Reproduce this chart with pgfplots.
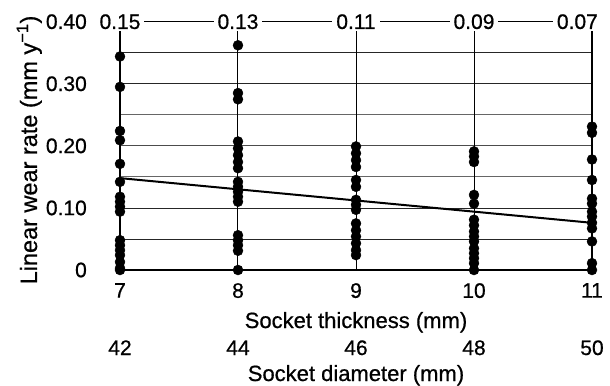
\documentclass[border=0pt]{standalone}
\usepackage{fontspec}
\setmainfont{Liberation Sans}[FakeBold=0.7]
\usepackage{pgfplots}
\pgfplotsset{compat=1.18}
\begin{document}
\fontsize{21bp}{25bp}\selectfont
\begin{tikzpicture}
\begin{axis}[
 at={(0,0)}, anchor=south west,
 scale only axis, width=472bp, height=248.3bp,
 xmin=7, xmax=11, ymin=0, ymax=0.40,
 clip=false,
 axis line style={draw=none},
 major tick length=0pt,
 xtick={7,8,9,10,11},
 xticklabels={7,8,9,10,11},
 ytick={0,0.1,0.2,0.3,0.4},
 yticklabels={0,0.10,0.20,0.30,0.40},
 xticklabel style={anchor=north, inner sep=0pt, yshift=-13bp},
 yticklabel style={anchor=east, inner sep=0pt, xshift=-33bp},
 ticklabel style={font=\fontsize{21bp}{25bp}\selectfont},
 /pgf/number format/assume math mode=true,
]
% horizontal grid
\draw[line width=0.8bp, black!85] (axis cs:7,0.05) -- (axis cs:11,0.05);
\draw[line width=0.8bp, black!85] (axis cs:7,0.10) -- (axis cs:11,0.10);
\draw[line width=0.8bp, black!60] (axis cs:7,0.15) -- (axis cs:11,0.15);
\draw[line width=0.8bp, black!70] (axis cs:7,0.20) -- (axis cs:11,0.20);
\draw[line width=0.8bp, black!60] (axis cs:7,0.25) -- (axis cs:11,0.25);
\draw[line width=0.8bp, black!85] (axis cs:7,0.30) -- (axis cs:11,0.30);
\draw[line width=0.8bp, black!85] (axis cs:7,0.35) -- (axis cs:11,0.35);
\draw[line width=1.2bp, black] (axis cs:7,0.40) -- (axis cs:11,0.40);
% vertical grid
\draw[line width=1bp, black] (axis cs:8,0) -- (axis cs:8,0.40);
\draw[line width=1bp, black] (axis cs:9,0) -- (axis cs:9,0.40);
\draw[line width=1bp, black] (axis cs:10,0) -- (axis cs:10,0.40);
\draw[line width=2.4bp, black] (axis cs:7,0) -- (axis cs:7,0.40);
\draw[line width=2.4bp, black] (axis cs:11,0) -- (axis cs:11,0.40);
\draw[line width=2.6bp, black] (axis cs:7,0) -- (axis cs:11,0);
% regression line
\addplot[line width=2bp, black] coordinates {(7,0.148) (11,0.076)};
% data
\addplot[only marks, mark=*, mark size=5bp, black] coordinates {
(7,0.344) (7,0.295) (7,0.224) (7,0.209) (7,0.171) (7,0.142) (7,0.118) (7,0.110)
(7,0.102) (7,0.094) (7,0.048) (7,0.040) (7,0.032) (7,0.024) (7,0.013) (7,0.003) (7,0.0)
(8,0.362) (8,0.285) (8,0.275) (8,0.207) (8,0.196) (8,0.185) (8,0.174) (8,0.164)
(8,0.142) (8,0.134) (8,0.126) (8,0.118) (8,0.110) (8,0.056) (8,0.048) (8,0.040) (8,0.031) (8,0.0)
(9,0.199) (9,0.188) (9,0.177) (9,0.166) (9,0.145) (9,0.134) (9,0.113) (9,0.105) (9,0.097)
(9,0.075) (9,0.064) (9,0.054) (9,0.043) (9,0.032) (9,0.024)
(10,0.191) (10,0.183) (10,0.174) (10,0.121) (10,0.107) (10,0.081) (10,0.072) (10,0.062)
(10,0.054) (10,0.046) (10,0.035) (10,0.027) (10,0.019) (10,0.011) (10,0.0)
(11,0.231) (11,0.221) (11,0.178) (11,0.145) (11,0.115) (11,0.107) (11,0.094) (11,0.086)
(11,0.076) (11,0.067) (11,0.046) (11,0.011) (11,0.0)
};
% top labels
\node[fill=white, inner xsep=4bp, inner ysep=2bp] at (axis cs:7,0.40) {0.15};
\node[fill=white, inner xsep=4bp, inner ysep=2bp] at (axis cs:8,0.40) {0.13};
\node[fill=white, inner xsep=4bp, inner ysep=2bp] at (axis cs:9,0.40) {0.11};
\node[fill=white, inner xsep=4bp, inner ysep=2bp] at (axis cs:10,0.40) {0.09};
\node[fill=white, inner xsep=4bp, inner ysep=2bp, anchor=east] at ([xshift=10bp]axis cs:11,0.40) {0.07};
% bottom labels
\node[anchor=base, font=\fontsize{22bp}{26bp}\selectfont] at ([yshift=-58bp]axis cs:9,0) {Socket thickness (mm)};
\node[anchor=base] at ([yshift=-85bp]axis cs:7,0) {42};
\node[anchor=base] at ([yshift=-85bp]axis cs:8,0) {44};
\node[anchor=base] at ([yshift=-85bp]axis cs:9,0) {46};
\node[anchor=base] at ([yshift=-85bp]axis cs:10,0) {48};
\node[anchor=base] at ([yshift=-85bp]axis cs:11,0) {50};
\node[anchor=base, font=\fontsize{22bp}{26bp}\selectfont] at ([yshift=-111bp]axis cs:9,0) {Socket diameter (mm)};
\node[rotate=90, anchor=base, font=\fontsize{23.5bp}{27bp}\selectfont] at ([xshift=-83bp,yshift=120bp]axis cs:7,0) {Linear wear rate (mm y\textsuperscript{−1})};
\end{axis}
\pgfresetboundingbox
\path (-120bp,-116bp) rectangle (490bp,270bp);
\end{tikzpicture}
\end{document}
